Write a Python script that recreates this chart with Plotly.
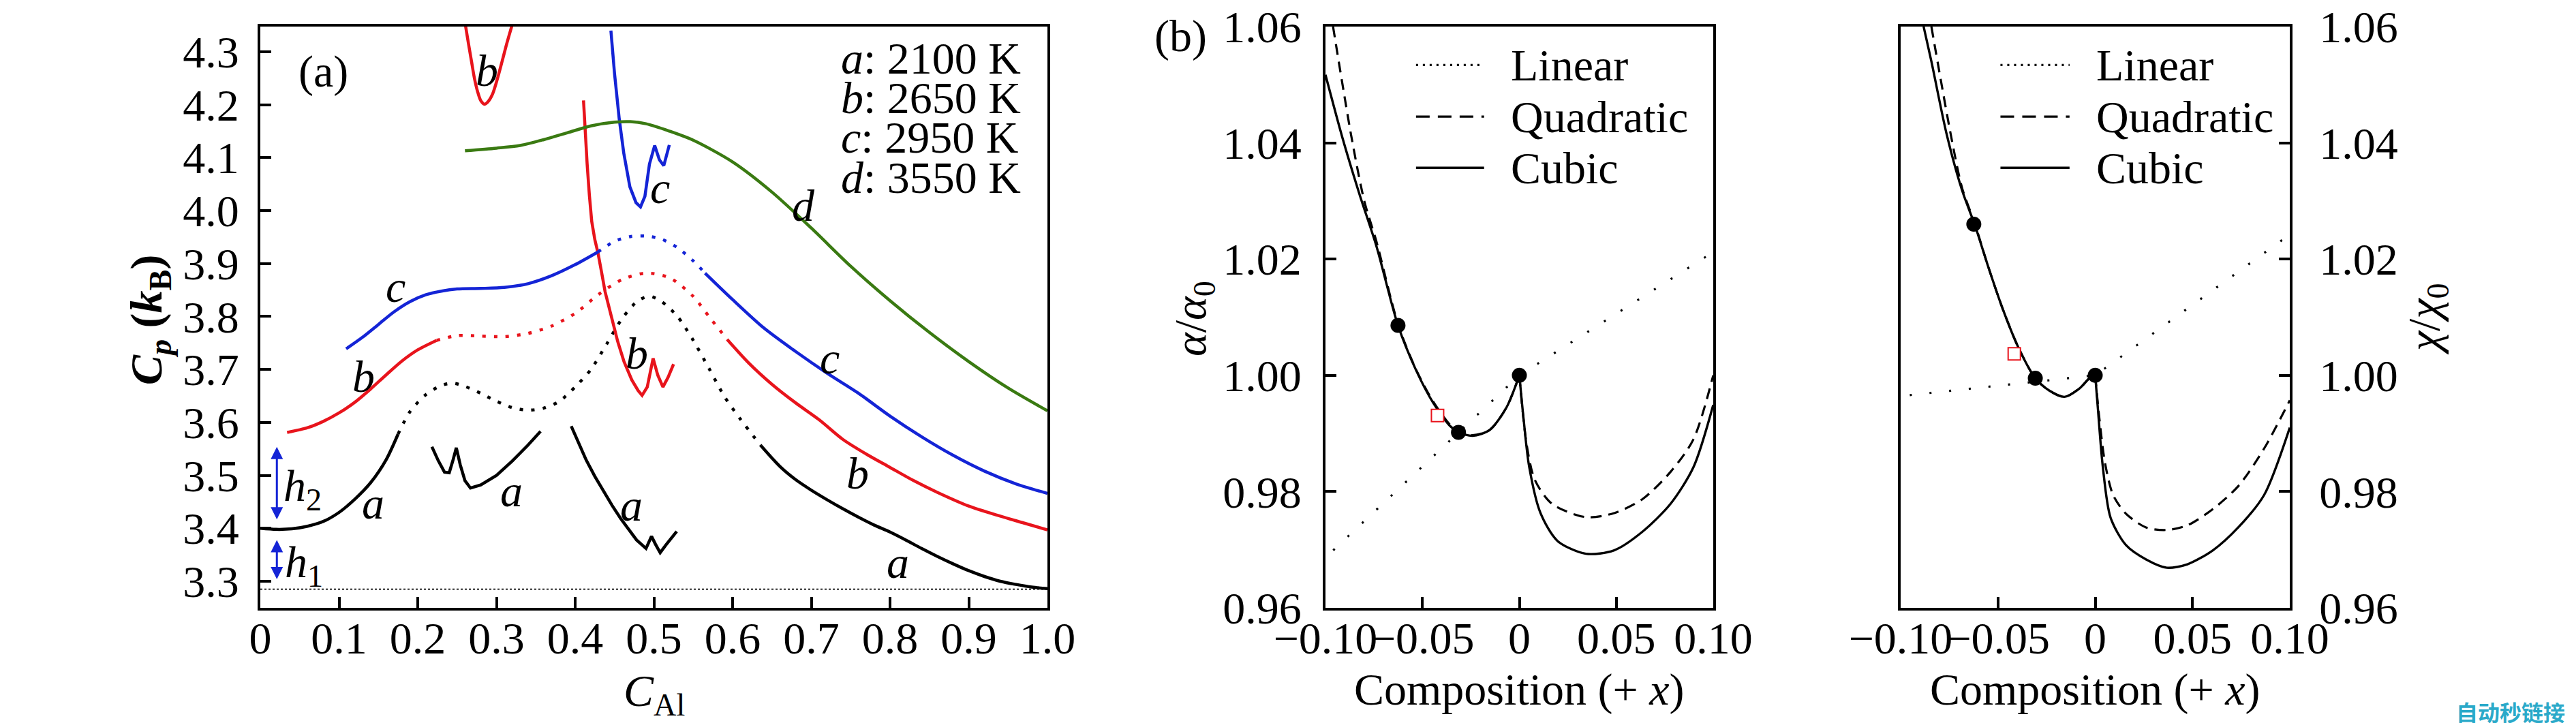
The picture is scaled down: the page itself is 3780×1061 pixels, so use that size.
import plotly.graph_objects as go

# ---------------- Panel (a): Cp vs C_Al ----------------
# curve a (2100 K), black
a1_x = [0.0, 0.02, 0.04, 0.06, 0.08, 0.10, 0.12, 0.14, 0.16, 0.175]
a1_y = [3.400, 3.398, 3.399, 3.404, 3.413, 3.430, 3.455, 3.486, 3.530, 3.578]
a_dot_x = [0.175, 0.19, 0.21, 0.23, 0.245, 0.26, 0.28, 0.30, 0.32, 0.34, 0.36, 0.38, 0.40,
           0.42, 0.44, 0.46, 0.48, 0.495, 0.51, 0.53, 0.55, 0.57, 0.59, 0.61, 0.636]
a_dot_y = [3.578, 3.620, 3.652, 3.670, 3.674, 3.668, 3.655, 3.640, 3.628, 3.623, 3.627, 3.640, 3.667,
           3.700, 3.748, 3.797, 3.830, 3.838, 3.828, 3.800, 3.755, 3.702, 3.648, 3.606, 3.556]
a2_x = [0.218, 0.226, 0.234, 0.240, 0.245, 0.249, 0.254, 0.260, 0.267, 0.28, 0.30, 0.32, 0.34, 0.356]
a2_y = [3.554, 3.528, 3.506, 3.505, 3.530, 3.552, 3.520, 3.490, 3.476, 3.482, 3.500, 3.527, 3.557, 3.583]
a3_x = [0.395, 0.405, 0.414, 0.425, 0.436, 0.447, 0.458, 0.468, 0.478, 0.490, 0.497, 0.502, 0.508, 0.515, 0.522, 0.529]
a3_y = [3.593, 3.560, 3.529, 3.498, 3.470, 3.443, 3.418, 3.397, 3.378, 3.362, 3.385, 3.370, 3.354, 3.368, 3.382, 3.394]
a4_x = [0.636, 0.66, 0.68, 0.70, 0.72, 0.74, 0.76, 0.78, 0.80, 0.82, 0.84, 0.86, 0.88, 0.90, 0.92, 0.94, 0.96, 0.98, 1.0]
a4_y = [3.556, 3.517, 3.492, 3.472, 3.454, 3.437, 3.421, 3.406, 3.393, 3.378, 3.362, 3.347, 3.333, 3.320, 3.309, 3.300, 3.294, 3.289, 3.286]

# curve b (2650 K), red
b1_x = [0.034, 0.06, 0.08, 0.10, 0.12, 0.14, 0.16, 0.18, 0.20, 0.224]
b1_y = [3.581, 3.590, 3.602, 3.618, 3.638, 3.663, 3.690, 3.716, 3.737, 3.755]
b_dot_x = [0.224, 0.25, 0.28, 0.31, 0.34, 0.37, 0.40, 0.43, 0.46, 0.49, 0.52, 0.55, 0.57, 0.593]
b_dot_y = [3.755, 3.764, 3.763, 3.762, 3.768, 3.782, 3.806, 3.842, 3.870, 3.882, 3.873, 3.838, 3.800, 3.757]
b2_x = [0.593, 0.62, 0.65, 0.68, 0.71, 0.74, 0.77, 0.80, 0.83, 0.86, 0.90, 0.94, 0.97, 1.0]
b2_y = [3.757, 3.713, 3.672, 3.637, 3.605, 3.568, 3.540, 3.515, 3.490, 3.468, 3.442, 3.423, 3.410, 3.397]
b_u_x = [0.2606, 0.2645, 0.2684, 0.272, 0.276, 0.280, 0.285, 0.290, 0.295, 0.301, 0.307, 0.313, 0.3198]
b_u_y = [4.35, 4.315, 4.281, 4.250, 4.225, 4.208, 4.201, 4.207, 4.220, 4.248, 4.281, 4.315, 4.35]
b_st_x = [0.4106, 0.4125, 0.4152, 0.418, 0.421, 0.425, 0.429, 0.434, 0.438, 0.446, 0.454, 0.462,
          0.472, 0.480, 0.485, 0.4916, 0.499, 0.505, 0.5115, 0.518, 0.525]
b_st_y = [4.208, 4.150, 4.088, 4.030, 3.980, 3.945, 3.920, 3.880, 3.847, 3.800, 3.753, 3.715,
          3.680, 3.660, 3.651, 3.667, 3.721, 3.689, 3.667, 3.685, 3.710]

# curve c (2950 K), blue
c1_x = [0.109, 0.13, 0.15, 0.17, 0.19, 0.21, 0.23, 0.25, 0.28, 0.31, 0.34, 0.37, 0.40, 0.429]
c1_y = [3.739, 3.761, 3.785, 3.809, 3.828, 3.841, 3.848, 3.852, 3.853, 3.855, 3.862, 3.877, 3.898, 3.922]
c_dot_x = [0.429, 0.45, 0.47, 0.49, 0.51, 0.53, 0.55, 0.565]
c_dot_y = [3.922, 3.942, 3.951, 3.952, 3.946, 3.930, 3.905, 3.882]
c2_x = [0.565, 0.60, 0.64, 0.68, 0.72, 0.76, 0.80, 0.84, 0.88, 0.92, 0.96, 1.0]
c2_y = [3.882, 3.832, 3.778, 3.734, 3.693, 3.655, 3.612, 3.573, 3.538, 3.508, 3.484, 3.466]
c_st_x = [0.4454, 0.450, 0.456, 0.4617, 0.4695, 0.4773, 0.483, 0.4886, 0.4944, 0.501, 0.507, 0.5126, 0.5196]
c_st_y = [4.340, 4.259, 4.173, 4.109, 4.045, 4.015, 4.007, 4.027, 4.088, 4.123, 4.096, 4.085, 4.124]

# curve d (3550 K), green
d_x = [0.26, 0.30, 0.33, 0.36, 0.39, 0.42, 0.45, 0.47, 0.49, 0.52, 0.55, 0.60,
       0.65, 0.70, 0.75, 0.80, 0.85, 0.90, 0.95, 1.0]
d_y = [4.113, 4.118, 4.123, 4.134, 4.147, 4.160, 4.167, 4.168, 4.164, 4.150, 4.133, 4.092,
       4.035, 3.967, 3.895, 3.830, 3.770, 3.715, 3.665, 3.622]

ref_x = [0.0, 1.0]
ref_y = [3.285, 3.285]

a_xtick_vals = [0, 0.1, 0.2, 0.3, 0.4, 0.5, 0.6, 0.7, 0.8, 0.9, 1.0]
a_xtick_text = ["0", "0.1", "0.2", "0.3", "0.4", "0.5", "0.6", "0.7", "0.8", "0.9", "1.0"]
a_ytick_vals = [3.3, 3.4, 3.5, 3.6, 3.7, 3.8, 3.9, 4.0, 4.1, 4.2, 4.3]
a_ytick_text = ["3.3", "3.4", "3.5", "3.6", "3.7", "3.8", "3.9", "4.0", "4.1", "4.2", "4.3"]

a_labels = [  # (x, y, text)
    (0.288, 4.265, "b"), (0.508, 4.043, "c"), (0.690, 4.010, "d"),
    (0.172, 3.857, "c"), (0.131, 3.687, "b"), (0.478, 3.730, "b"),
    (0.723, 3.722, "c"), (0.759, 3.504, "b"), (0.143, 3.448, "a"),
    (0.319, 3.470, "a"), (0.471, 3.443, "a"), (0.810, 3.335, "a"),
]
temp_names = ["a", "b", "c", "d"]
temp_values = ["2100 K", "2650 K", "2950 K", "3550 K"]
temp_y = [4.288, 4.213, 4.138, 4.063]

# ---------------- Panel (b): alpha/alpha0 ----------------
b1_lin_x = [-0.096, 0.0, 0.1]
b1_lin_y = [0.9699, 1.0, 1.0212]
b1_cub_x = [-0.1, -0.0912, -0.0825, -0.0737, -0.0626, -0.0533, -0.0445, -0.0358, -0.0314, -0.0241,
            -0.0153, -0.0066, 0.0, 0.0023, 0.0051, 0.0109, 0.0197, 0.0343, 0.0489, 0.0635, 0.078, 0.0898, 0.1]
b1_cub_y = [1.0517, 1.0408, 1.0312, 1.0222, 1.0086, 1.0009, 0.9953, 0.9913, 0.9902, 0.9896,
            0.9906, 0.9945, 1.0, 0.9921, 0.9842, 0.9763, 0.9715, 0.9693, 0.9699, 0.9731, 0.9779, 0.9842, 0.9949]
b1_quad_x = [-0.0961, -0.0912, -0.0866, -0.0800, -0.0737, -0.0626, -0.0533, -0.0445, -0.0358, -0.0314, -0.0241,
             -0.0153, -0.0066, 0.0, 0.0037, 0.0080, 0.0168, 0.0343, 0.0489, 0.0635, 0.078, 0.0898, 0.1]
b1_quad_y = [1.0600, 1.0500, 1.0410, 1.0300, 1.0230, 1.0088, 1.0010, 0.9955, 0.9915, 0.9903, 0.9897,
             0.9906, 0.9945, 1.0, 0.9882, 0.9820, 0.9779, 0.9756, 0.9763, 0.9787, 0.9834, 0.9890, 1.0]
b1_pts_x = [-0.0626, -0.0314, 0.0]
b1_pts_y = [1.0086, 0.9902, 1.0]
b1_sq_x = [-0.0422]
b1_sq_y = [0.9931]

# ---------------- Panel (b): chi/chi0 ----------------
b2_lin_x = [-0.0953, 0.0, 0.0974]
b2_lin_y = [0.9966, 1.0, 1.0236]
b2_cub_x = [-0.0882, -0.0842, -0.0763, -0.0684, -0.0618, -0.0553, -0.0474, -0.0395, -0.0308, -0.0237,
            -0.0158, -0.0079, -0.0021, 0.0, 0.0013, 0.0039, 0.0079, 0.0158, 0.0263, 0.0368, 0.0474,
            0.0605, 0.0737, 0.0868, 0.1]
b2_cub_y = [1.0600, 1.0540, 1.0414, 1.0318, 1.0258, 1.0190, 1.0113, 1.0048, 0.9995, 0.9974,
            0.9963, 0.9978, 0.9998, 1.0, 0.9946, 0.9843, 0.9755, 0.9708, 0.9683, 0.9669, 0.9675,
            0.9699, 0.9739, 0.9794, 0.9910]
b2_quad_x = [-0.0842, -0.0800, -0.0740, -0.0684, -0.0618, -0.0553, -0.0474, -0.0395, -0.0308, -0.0237,
             -0.0158, -0.0079, -0.0021, 0.0, 0.0020, 0.0050, 0.0092, 0.0158, 0.0263, 0.0368, 0.0474,
             0.0605, 0.0737, 0.0868, 0.1]
b2_quad_y = [1.0600, 1.0520, 1.0410, 1.0322, 1.0260, 1.0190, 1.0113, 1.0048, 0.9995, 0.9974,
             0.9963, 0.9978, 0.9998, 1.0, 0.9930, 0.9850, 0.9794, 0.9762, 0.9738, 0.9734, 0.9742,
             0.9770, 0.9810, 0.9874, 0.9957]
b2_pts_x = [-0.0624, -0.0308, 0.0]
b2_pts_y = [1.0260, 0.9995, 1.0]
b2_sq_x = [-0.0416]
b2_sq_y = [1.0037]

b_xtick_vals = [-0.10, -0.05, 0.0, 0.05, 0.10]
b_xtick_text = ["\u22120.10", "\u22120.05", "0", "0.05", "0.10"]
b_ytick_vals = [0.96, 0.98, 1.00, 1.02, 1.04, 1.06]
b_ytick_text = ["0.96", "0.98", "1.00", "1.02", "1.04", "1.06"]

legend_names = ["Linear", "Quadratic", "Cubic"]
legend_y = [1.0534, 1.0445, 1.0357]
b1_leg_x = [-0.0533, -0.0182]
b2_leg_x = [-0.0487, -0.0132]

# ---------------- styling ----------------
FONT = "Liberation Serif"
FS = 66
RED = "#e8141c"
BLUE = "#1424d6"
GREEN = "#3a7a12"
W = 3780
H = 1061

fig = go.Figure()


def line(x, y, color, width, dash="solid", xa="x", ya="y", shape="spline", smooth=0.8):
    fig.add_trace(go.Scatter(x=x, y=y, mode="lines", xaxis=xa, yaxis=ya,
                             line=dict(color=color, width=width, dash=dash, shape=shape,
                                       smoothing=smooth),
                             showlegend=False, hoverinfo="skip"))


DOT_A = "5px,12px"
# panel a
line(ref_x, ref_y, "black", 1.6, "3px,3px", shape="linear")
line(a1_x, a1_y, "black", 4.5)
line(a_dot_x, a_dot_y, "black", 4.5, DOT_A)
line(a2_x, a2_y, "black", 4.5, shape="linear")
line(a3_x, a3_y, "black", 4.5, shape="linear")
line(a4_x, a4_y, "black", 4.5)
line(b1_x, b1_y, RED, 4.5)
line(b_dot_x, b_dot_y, RED, 4.5, DOT_A)
line(b2_x, b2_y, RED, 4.5)
line(b_u_x, b_u_y, RED, 4.5)
line(b_st_x, b_st_y, RED, 4.5, shape="linear")
line(c1_x, c1_y, BLUE, 4.5)
line(c_dot_x, c_dot_y, BLUE, 4.5, DOT_A)
line(c2_x, c2_y, BLUE, 4.5)
line(c_st_x, c_st_y, BLUE, 4.5, shape="linear")
line(d_x, d_y, GREEN, 4.5)


def split_at_zero(x, y):
    i = x.index(0.0)
    return (x[:i + 1], y[:i + 1]), (x[i:], y[i:])


LIN_DASH = "3px,26px"
QUAD_DASH = "16px,10px"
for xa, ya, lx, ly, cx, cy, qx, qy, px, py, sx, sy, legx in [
    ("x2", "y2", b1_lin_x, b1_lin_y, b1_cub_x, b1_cub_y, b1_quad_x, b1_quad_y,
     b1_pts_x, b1_pts_y, b1_sq_x, b1_sq_y, b1_leg_x),
    ("x3", "y3", b2_lin_x, b2_lin_y, b2_cub_x, b2_cub_y, b2_quad_x, b2_quad_y,
     b2_pts_x, b2_pts_y, b2_sq_x, b2_sq_y, b2_leg_x),
]:
    line(lx, ly, "black", 3.2, LIN_DASH, xa, ya, shape="linear")
    for part in split_at_zero(qx, qy):
        line(part[0], part[1], "black", 3.2, QUAD_DASH, xa, ya)
    for part in split_at_zero(cx, cy):
        line(part[0], part[1], "black", 3.4, "solid", xa, ya)
    fig.add_trace(go.Scatter(x=px, y=py, mode="markers", xaxis=xa, yaxis=ya,
                             marker=dict(color="black", size=22, symbol="circle"),
                             showlegend=False, hoverinfo="skip"))
    fig.add_trace(go.Scatter(x=sx, y=sy, mode="markers", xaxis=xa, yaxis=ya,
                             marker=dict(color="white", size=18, symbol="square",
                                         line=dict(color=RED, width=2)),
                             showlegend=False, hoverinfo="skip"))
    # legend samples
    line(legx, [legend_y[0]] * 2, "black", 3.2, "3px,7px", xa, ya, shape="linear")
    line(legx, [legend_y[1]] * 2, "black", 3.2, "20px,12px", xa, ya, shape="linear")
    line(legx, [legend_y[2]] * 2, "black", 3.4, "solid", xa, ya, shape="linear")

annotations = []


def txt(x, y, s, xref="x", yref="y", size=FS, xanchor="center", yanchor="middle", angle=0, **kw):
    annotations.append(dict(x=x, y=y, xref=xref, yref=yref, text=s, showarrow=False,
                            font=dict(family=kw.get("family", FONT), size=size,
                                      color=kw.get("color", "black")),
                            xanchor=xanchor, yanchor=yanchor, textangle=angle))


for lx, ly, s in a_labels:
    txt(lx, ly, "<i>%s</i>" % s)
for n, v, yy in zip(temp_names, temp_values, temp_y):
    txt(0.736, yy, "<i>%s</i>: %s" % (n, v), xanchor="left")
txt(0.0805, 4.263, "(a)")
txt(0.054, 3.474, "<i>h</i><sub>2</sub>", xanchor="center")
txt(0.055, 3.330, "<i>h</i><sub>1</sub>", xanchor="center")

for xref, yref, legx in [("x2", "y2", b1_leg_x), ("x3", "y3", b2_leg_x)]:
    for name, yy in zip(legend_names, legend_y):
        txt(legx[1] + 0.013, yy, name, xref=xref, yref=yref, xanchor="left")

# axis titles (paper coords)
txt(211 / W, 1 - 462 / H, "<b><i>C</i><sub><i>p</i></sub> (<i>k</i><sub>B</sub>)</b>",
    xref="paper", yref="paper", angle=-90)
txt(952 / W, 1 - 1010 / H, "<i>C</i><sub>Al</sub>", xref="paper", yref="paper")
txt(2221 / W, 1 - 1004 / H, "Composition (+ <i>x</i>)", xref="paper", yref="paper")
txt(3066 / W, 1 - 1004 / H, "Composition (+ <i>x</i>)", xref="paper", yref="paper")
txt(1743 / W, 1 - 460 / H, "<i>α</i>/<i>α</i><sub>0</sub>", xref="paper", yref="paper", angle=-90)
txt(3553 / W, 1 - 460 / H, "<i>χ</i>/<i>χ</i><sub>0</sub>", xref="paper", yref="paper", angle=-90)
txt(1724 / W, 1 - 45 / H, "(b)", xref="paper", yref="paper")
txt(3676 / W, 1 - 1036 / H, "<b>自动秒链接</b>", xref="paper", yref="paper", size=32,
    family="Noto Sans CJK SC", color="#2aa9c9")

# h arrows
for y0, y1 in [(3.415, 3.554), (3.302, 3.378)]:
    annotations.append(dict(x=0.021, y=y1, ax=0.021, ay=y0, xref="x", yref="y", axref="x", ayref="y",
                            showarrow=True, arrowhead=2, arrowside="end+start", arrowsize=1.2,
                            arrowwidth=3, arrowcolor=BLUE, text=""))

fig.update_layout(annotations=annotations)

axis_common = dict(showline=True, linewidth=4, linecolor="black", mirror=True, ticks="inside",
                   ticklen=16, tickwidth=4, tickcolor="black", showgrid=False, zeroline=False,
                   tickfont=dict(family=FONT, size=FS, color="black"), tickmode="array",
                   tickangle=0, automargin=False)

XSO = -16
yd = [(H - 884) / H, (H - 31) / H]
fig.update_layout(
    width=W, height=H, margin=dict(l=0, r=0, t=0, b=0),
    paper_bgcolor="white", plot_bgcolor="white", showlegend=False,
    font=dict(family=FONT, size=FS, color="black"),
    xaxis=dict(domain=[374 / W, 1529 / W], range=[0, 1], anchor="y",
               tickvals=a_xtick_vals, ticktext=a_xtick_text, ticklabelstandoff=XSO, **axis_common),
    yaxis=dict(domain=yd, range=[3.2498, 4.3476], anchor="x",
               tickvals=a_ytick_vals, ticktext=a_ytick_text, ticklabelstandoff=14, **axis_common),
    xaxis2=dict(domain=[1937 / W, 2506 / W], range=[-0.1, 0.1], anchor="y2",
                tickvals=b_xtick_vals, ticktext=b_xtick_text, ticklabelstandoff=XSO, **axis_common),
    yaxis2=dict(domain=yd, range=[0.96, 1.06], anchor="x2",
                tickvals=b_ytick_vals, ticktext=b_ytick_text, ticklabelstandoff=18, **axis_common),
    xaxis3=dict(domain=[2781 / W, 3352 / W], range=[-0.1, 0.1], anchor="y3",
                tickvals=b_xtick_vals, ticktext=b_xtick_text, ticklabelstandoff=XSO, **axis_common),
    yaxis3=dict(domain=yd, range=[0.96, 1.06], anchor="x3", side="right",
                tickvals=b_ytick_vals, ticktext=b_ytick_text, ticklabelstandoff=26, **axis_common),
)

fig.write_html("out.html")
